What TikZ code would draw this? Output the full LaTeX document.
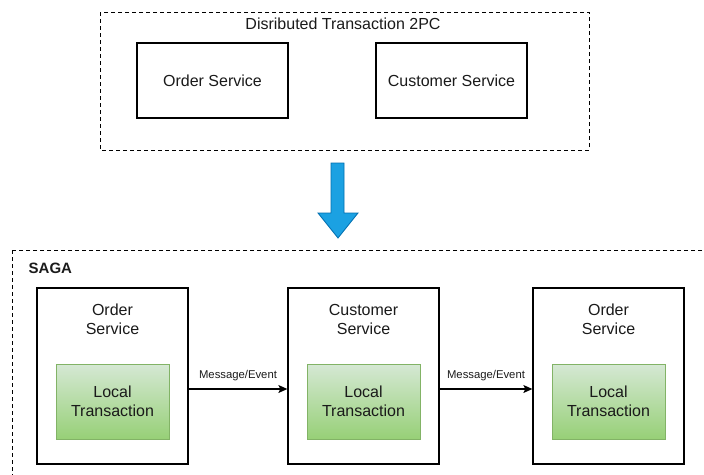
\documentclass[tikz,border=0pt]{standalone}
\usepackage{fontspec}
\setmainfont{Liberation Sans}
\usetikzlibrary{arrows.meta}
\definecolor{txtgray}{HTML}{1A1A1A}
\definecolor{greentop}{HTML}{D5E8D4}
\definecolor{greenbot}{HTML}{97D077}
\definecolor{greenline}{HTML}{82B366}
\definecolor{bluefill}{HTML}{1BA1E2}
\definecolor{blueline}{HTML}{006EAF}
\tikzset{
  lbl/.style={font=\fontsize{16}{19}\selectfont, text=txtgray, align=center, inner sep=0pt},
  group/.style={draw=black, line width=0.9pt, dash pattern=on 4pt off 3pt},
  svcbox/.style={draw=black, line width=1.3pt, fill=white, minimum width=151pt, minimum height=75pt, inner sep=0pt},
  sagabox/.style={draw=black, line width=1.3pt, fill=white, minimum width=151pt, minimum height=176pt, inner sep=0pt},
  localtx/.style={draw=greenline, line width=1pt, top color=greentop, bottom color=greenbot,
    minimum width=113pt, minimum height=75pt, inner sep=0pt,
    font=\fontsize{16}{19}\selectfont, text=txtgray, align=center},
  msg/.style={-{Stealth[length=9pt,width=8pt,inset=2pt]}, line width=1.1pt, draw=black},
  msglbl/.style={font=\fontsize{11.3}{13}\selectfont, text=txtgray, inner sep=0pt}
}
\begin{document}
\begin{tikzpicture}[x=1pt, y=-1pt]
\useasboundingbox (0,0) rectangle (704,474);
\clip (0,0) rectangle (704,474);

% two-phase commit group
\draw[group] (100,12) rectangle (589,150);
\node[lbl] (title2pc) at (343,24) {Disributed Transaction 2PC};
\node[svcbox, lbl, minimum width=151pt, minimum height=75pt] (os2pc) at (212.5,80.5) {Order Service};
\node[svcbox, lbl, minimum width=151pt, minimum height=75pt] (cs2pc) at (451.5,80.5) {Customer Service};

% transition arrow
\draw[fill=bluefill, draw=blueline, line width=0.8pt]
  (331,163) -- (344,163) -- (344,213) -- (358,213) -- (338,238)
  -- (318,213) -- (331,213) -- cycle;

% saga group (runs past the right and bottom edges)
\draw[group] (12,250) rectangle (730,500);
\node[font=\bfseries\fontsize{15}{18}\selectfont, text=txtgray, anchor=west, inner sep=0pt] (saga) at (28.5,268.5) {SAGA};

\node[sagabox] (s1) at (112.5,376) {};
\node[sagabox] (s2) at (363.5,376) {};
\node[sagabox] (s3) at (608.5,376) {};

\node[lbl] (s1t) at (112.5,319.5) {Order\\Service};
\node[lbl] (s2t) at (363.5,319.5) {Customer\\Service};
\node[lbl] (s3t) at (608.5,319.5) {Order\\Service};

\node[localtx] (l1) at (112.5,401.5) {Local\\Transaction};
\node[localtx] (l2) at (363.5,401.5) {Local\\Transaction};
\node[localtx] (l3) at (608.5,401.5) {Local\\Transaction};

\draw[msg] ([yshift=-13pt]s1.east) -- node[msglbl, above=7.5pt] (m1) {Message/Event} ([yshift=-13pt]s2.west);
\draw[msg] ([yshift=-13pt]s2.east) -- node[msglbl, above=7.5pt] (m2) {Message/Event} ([yshift=-13pt]s3.west);
\end{tikzpicture}
\end{document}
